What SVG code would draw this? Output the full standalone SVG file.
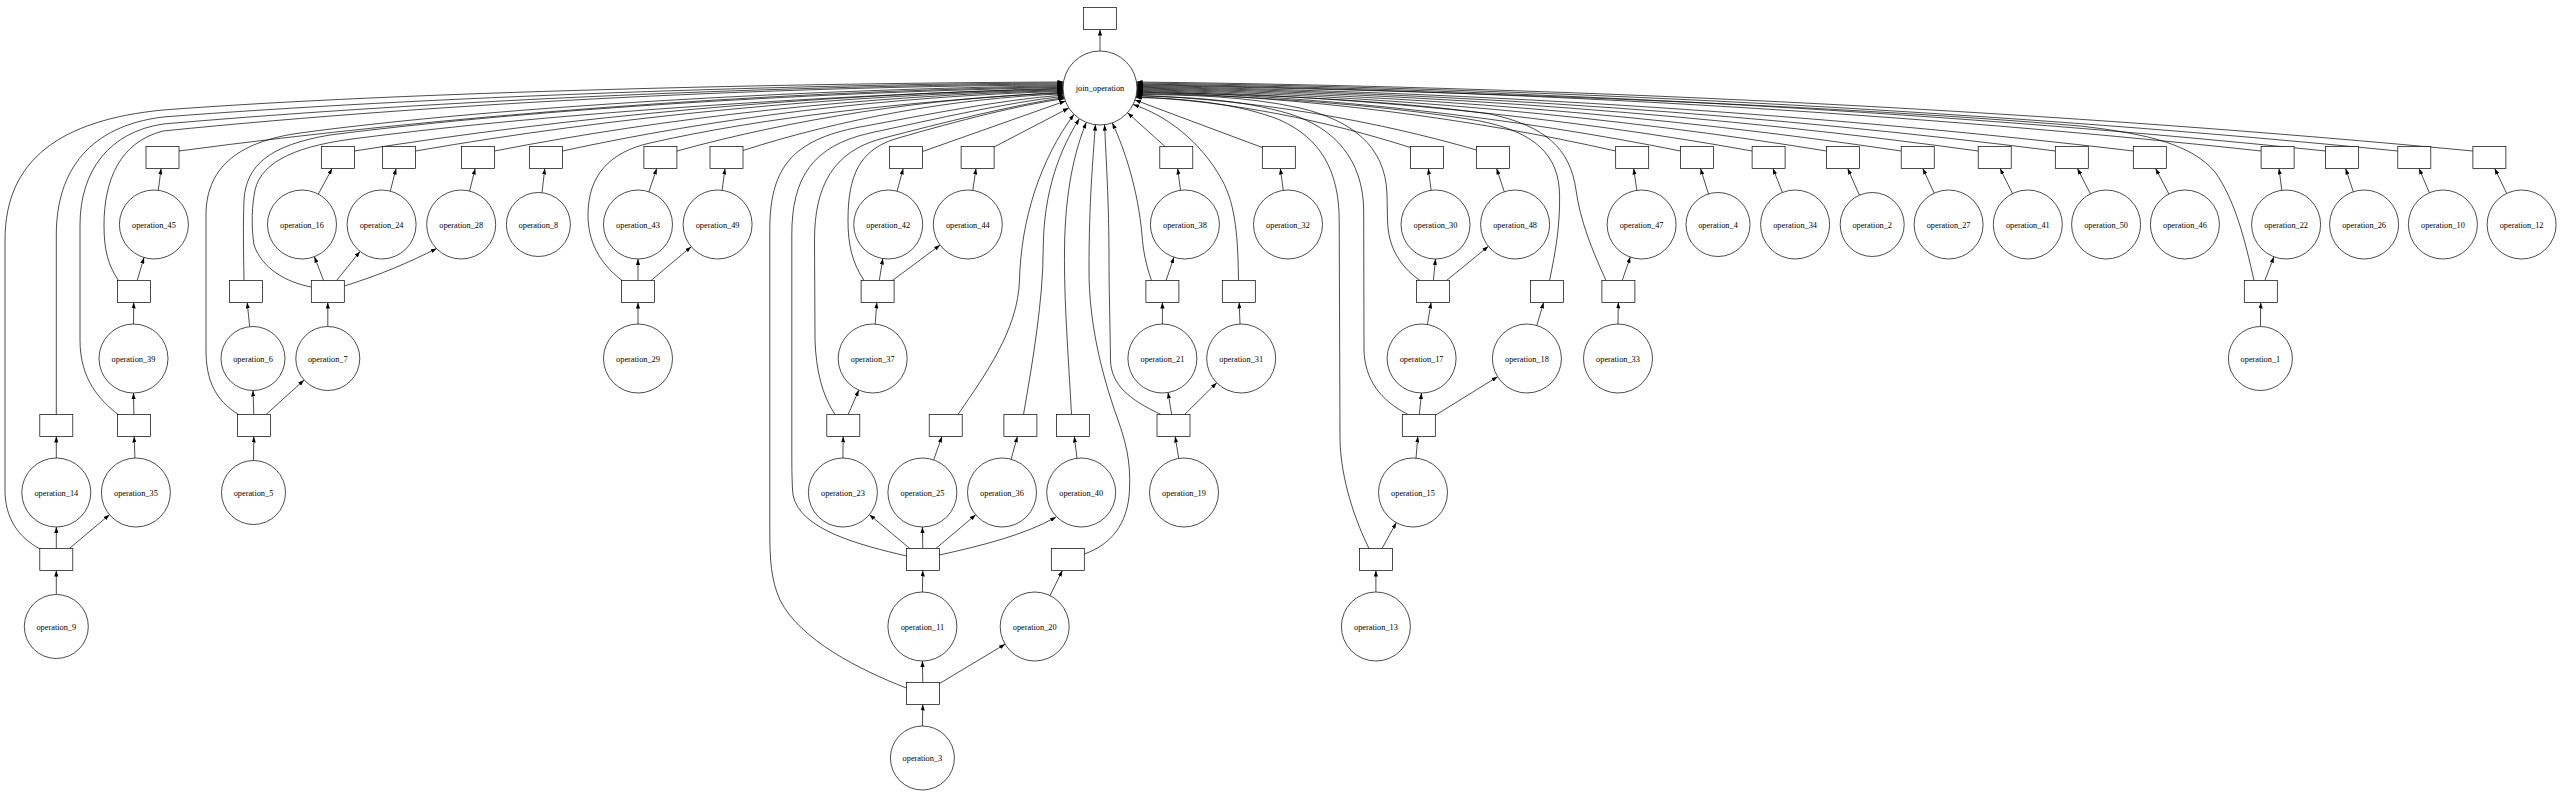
<svg xmlns="http://www.w3.org/2000/svg" width="2568" height="812" viewBox="0 0 2568 812">
<defs>
<marker id="ah" viewBox="0 0 10 7" refX="10" refY="3.5" markerWidth="6" markerHeight="4.2" markerUnits="userSpaceOnUse" orient="auto"><path d="M0,0 L10,3.5 L0,7 z" fill="#000"/></marker>
</defs>
<style>
.nd circle, .nd rect { fill:#fff; stroke:#000; stroke-width:0.7; }
.nd text { font-family:"Liberation Serif","Times New Roman",serif; font-size:8.3px; text-anchor:middle; fill:#000; }
#edges path { fill:none; stroke:#000; stroke-width:0.7; marker-end:url(#ah); }
</style>
<rect width="2568" height="812" fill="#fff"/>
<g id="edges">
<path d="M1100,51 L1100,29.5"/>
<path d="M158.3,190.3 L161.1,168.5"/>
<path d="M318.3,194.1 L332.1,168.5"/>
<path d="M390.3,191.1 L396.1,168.5"/>
<path d="M469.6,191 L475.2,168.5"/>
<path d="M542,192.7 L544.8,168.5"/>
<path d="M648.9,191.8 L656.7,168.5"/>
<path d="M722.1,190.3 L725,168.5"/>
<path d="M897.1,191.2 L903.2,168.5"/>
<path d="M972.8,190.4 L976,168.5"/>
<path d="M1180.5,190.3 L1177.7,168.5"/>
<path d="M1283.3,190.3 L1280.3,168.5"/>
<path d="M1431.1,190.3 L1428.3,168.5"/>
<path d="M1504.3,191.7 L1496.6,168.5"/>
<path d="M1636.8,190.3 L1633.7,168.5"/>
<path d="M1708.5,194 L1700.5,168.5"/>
<path d="M1782.4,192.4 L1772.9,168.5"/>
<path d="M1859.4,195.2 L1847.7,168.5"/>
<path d="M1934.2,193.2 L1922.8,168.5"/>
<path d="M2012.5,193.6 L2000.1,168.5"/>
<path d="M2090.4,193.8 L2077.4,168.5"/>
<path d="M2168.9,193.9 L2155.6,168.5"/>
<path d="M2281.8,190.3 L2279,168.5"/>
<path d="M2353.3,191.7 L2345.6,168.5"/>
<path d="M2429.4,192.8 L2419,168.5"/>
<path d="M2506.7,193.4 L2494.7,168.5"/>
<path d="M133.5,324 L133.7,302.5"/>
<path d="M249.7,326.7 L247.2,302.5"/>
<path d="M327.8,326.5 L327.8,302.5"/>
<path d="M638,324 L638,302.5"/>
<path d="M875.2,324.1 L876.8,302.5"/>
<path d="M1162.4,324 L1162.4,302.5"/>
<path d="M1240,324 L1239.2,302.5"/>
<path d="M1427.4,324.5 L1431.1,302.5"/>
<path d="M1536.8,325.4 L1543.6,302.5"/>
<path d="M1618,324 L1618.3,302.5"/>
<path d="M2260.4,326.5 L2260.7,302.5"/>
<path d="M56.3,458 L56.3,436.5"/>
<path d="M134.9,458 L134.2,436.5"/>
<path d="M253.5,460.5 L253.8,436.5"/>
<path d="M842.9,458 L843.2,436.5"/>
<path d="M933.7,459.9 L941.9,436.5"/>
<path d="M1011.1,459.2 L1017.4,436.5"/>
<path d="M1077,458.3 L1074.3,436.5"/>
<path d="M1178.7,458.4 L1175.2,436.5"/>
<path d="M1416,458.1 L1417.8,436.5"/>
<path d="M56.3,594.5 L56.3,570.5"/>
<path d="M922.4,592 L922.8,570.5"/>
<path d="M1050,595.6 L1062.4,570.5"/>
<path d="M1375.9,592 L1375.9,570.5"/>
<path d="M922.4,726 L922.8,704.5"/>
<path d="M56.3,548.5 L56.3,527"/>
<path d="M69.4,548.5 L109.5,514.7"/>
<path d="M133.9,414.5 L133.5,393"/>
<path d="M137.2,280.5 L144,257.6"/>
<path d="M253.8,414.5 L253,390.5"/>
<path d="M266,414.5 L304.1,380"/>
<path d="M323.6,280.5 L314.4,256.7"/>
<path d="M336.6,280.5 L360,251.4"/>
<path d="M344.3,286 C380,275 410,262 436.8,248.4"/>
<path d="M638,280.5 L638,259"/>
<path d="M651.1,280.5 L691.2,246.7"/>
<path d="M922.8,682.5 L922.4,661"/>
<path d="M939.4,683.6 L1005.1,644.2"/>
<path d="M909.8,548.5 L869.4,514.7"/>
<path d="M922.8,548.5 L922.4,527"/>
<path d="M935.9,548.5 L975.7,514.8"/>
<path d="M939.4,555 C980,546 1025,535 1056,517"/>
<path d="M1171.7,414.5 L1168,392.5"/>
<path d="M1184.6,414.5 L1216.7,382.8"/>
<path d="M1166.1,280.5 L1173.9,257.2"/>
<path d="M879.3,280.5 L882.8,258.6"/>
<path d="M892.4,280.5 L940.1,245.1"/>
<path d="M848.1,414.5 L858.8,390.1"/>
<path d="M1382,548.5 L1396.3,522.7"/>
<path d="M1419.3,414.5 L1421.5,393"/>
<path d="M1435.3,415.3 L1497.6,376.7"/>
<path d="M1433.4,280.5 L1435.5,259"/>
<path d="M1446.5,280.5 L1488.4,246.3"/>
<path d="M1622.2,280.5 L1630.3,257.1"/>
<path d="M2264.9,280.5 L2273.9,256.8"/>
<path d="M40,549 C18,537 5,518 5,490 L5,240 C5,160 60,120 163,110 C400,92 800,83 1063.5,82"/>
<path d="M56.3,414.5 L56.3,235 C56.3,170 90,126 163,117 C420,97 800,84 1063.3,83"/>
<path d="M118,414.5 C100,400 80,380 80,340 L80,225 C80,170 110,132 163,124 C440,100 800,85 1063.2,84"/>
<path d="M118.5,280.5 C108,265 104,250 104,225 C104,180 120,142 163,131 C450,102 800,86 1063.1,85"/>
<path d="M238.5,414.5 C215,400 206,380 206,350 L206,215 C206,170 235,142 300,133 C500,106 820,89 1063.1,85.8"/>
<path d="M179,151 C444.2,115.6 753.7,91.8 1063,86.6"/>
<path d="M244,280.5 C243.5,250 243,225 244,200 C246,165 270,145 330,135 C540,108 830,92 1063,87.4"/>
<path d="M311.3,287 C285,282 262,268 254,245 C251,225 252,205 255,190 C262,160 300,145 360,138 C560,112 840,95 1063,88.2"/>
<path d="M354.5,151 C567.1,116.9 815,94 1063,89"/>
<path d="M415.5,151 C609.8,117.3 836.4,94.7 1063,89.8"/>
<path d="M494.5,151 C665.1,117.8 864.1,95.4 1063.1,90.6"/>
<path d="M562.5,151 C712.7,118.2 888,96.2 1063.2,91.4"/>
<path d="M622,280.5 C598,262 588,240 588,215 C588,175 610,152 650,143 C760,118 900,102 1063.2,92.2"/>
<path d="M677,151 C792.9,119.1 928.1,97.6 1063.3,93"/>
<path d="M743,150.5 C839.2,119.5 951.3,98.4 1063.5,93.8"/>
<path d="M906.4,688 C860,670 800,640 780,600 C771,580 769.8,560 769.8,530 L769.8,230 C769.8,170 790,140 860,127 C930,114 1000,100 1063.7,95"/>
<path d="M906.4,556 C860,545 800,530 793,495 C792,485 791.8,470 791.8,450 L791.8,235 C791.8,178 812,146 870,133 C940,118 1005,103 1063.9,96.2"/>
<path d="M835,414.5 C822,395 816,370 815,340 L814.5,240 C814.5,185 834,152 880,139 C945,122 1010,106 1064.2,97.4"/>
<path d="M864,280.5 C852,262 848,245 848,220 C848,175 860,150 895,139 C960,120 1020,105 1064.6,98.6"/>
<path d="M922.6,151.5 L1065.4,101"/>
<path d="M994.1,147 L1068.8,108"/>
<path d="M958,414.5 C985,375 1018,330 1019.5,280 C1021,220 1040,160 1074,114.3"/>
<path d="M1023.5,414.5 C1033,360 1043,300 1043.2,250 C1043.5,190 1060,150 1079.3,118.7"/>
<path d="M1071.5,414.5 C1068,350 1064,300 1064.5,250 C1065,190 1075,150 1086.3,122.4"/>
<path d="M1084.3,554 C1110,545 1128,525 1129.5,490 C1131,460 1125,440 1118,420 C1100,370 1089,320 1089,270 C1089,200 1093,160 1095.4,124.7"/>
<path d="M1161,414.5 C1130,400 1111,385 1110.5,360 C1110,320 1109,290 1109,260 C1109,200 1106,160 1104.6,124.7"/>
<path d="M1151.5,280.5 C1146,265 1143,250 1142,235 C1138,190 1125,150 1112.3,122.9"/>
<path d="M1165,146.5 L1127.5,112.7"/>
<path d="M1238.5,280.5 C1238,240 1236,205 1222,180 C1200,140 1165,115 1133.1,104.5"/>
<path d="M1262.3,147.5 L1135,100"/>
<path d="M1369,548.5 C1355,520 1341,480 1340,440 L1339.2,220 C1339,170 1320,138 1280,120 C1240,104 1185,98 1135.6,97.6"/>
<path d="M1408,414.5 C1380,400 1365,380 1364,350 L1363.7,210 C1363,160 1335,128 1290,114 C1240,99 1185,97 1136.1,96"/>
<path d="M1420,280.5 C1398,265 1388,245 1387.5,220 L1387,195 C1386,145 1350,120 1300,108 C1245,96 1190,95 1136.4,94.4"/>
<path d="M1410.4,147.5 C1328,121.2 1232,101.1 1135.9,96.8"/>
<path d="M1476.5,150 C1374.4,120.3 1255.4,99.7 1136.3,95.2"/>
<path d="M1549.5,280.5 C1556,250 1560,225 1559.6,195 C1559,155 1535,132 1480,121 C1380,104 1240,95 1136.6,93.6"/>
<path d="M1606,280.5 C1592,250 1580,220 1576,190 C1570,148 1545,126 1490,114 C1390,100 1240,93 1136.7,92.8"/>
<path d="M1615.7,151 C1472,118.5 1304.4,96.7 1136.8,92"/>
<path d="M1680.6,151 C1517.5,118.1 1327.2,96 1136.9,91.2"/>
<path d="M1752.1,151 C1567.5,117.7 1352.2,95.2 1136.9,90.4"/>
<path d="M1826.4,151 C1619.6,117.2 1378.3,94.5 1137,89.6"/>
<path d="M1901.2,151 C1671.9,116.8 1404.5,93.8 1137,88.8"/>
<path d="M1978.2,151 C1725.8,116.3 1431.4,93 1137,88"/>
<path d="M2055.3,151 C1779.8,115.9 1458.4,92.3 1137,87.2"/>
<path d="M2133.3,151 C1834.4,115.5 1485.7,91.6 1137,86.4"/>
<path d="M2254,280.5 C2245,240 2235,200 2215,172 C2192,145 2150,134 2080,126 C1820,104 1400,89 1136.9,85.6"/>
<path d="M2261.1,151 C1923.8,114.6 1530.4,90.1 1136.9,84.8"/>
<path d="M2325.5,151 C1968.9,114.1 1552.8,89.4 1136.8,84"/>
<path d="M2397.8,151 C2019.5,113.6 1578.1,88.4 1136.7,83"/>
<path d="M2472.9,151 C2072,113 1604.2,87.5 1136.5,82"/>
</g>
<g id="nodes">
<g id="box_join_operation" class="nd"><rect x="1083.5" y="7.5" width="33" height="22"/></g>
<g id="join_operation" class="nd"><circle cx="1100" cy="88" r="37"/><text x="1100" y="91">join_operation</text></g>
<g id="box_operation_45" class="nd"><rect x="146" y="146.5" width="33" height="22"/></g>
<g id="box_operation_16" class="nd"><rect x="321.5" y="146.5" width="33" height="22"/></g>
<g id="box_operation_24" class="nd"><rect x="382.5" y="146.5" width="33" height="22"/></g>
<g id="box_operation_28" class="nd"><rect x="461.5" y="146.5" width="33" height="22"/></g>
<g id="box_operation_8" class="nd"><rect x="529.5" y="146.5" width="33" height="22"/></g>
<g id="box_operation_43" class="nd"><rect x="643.9" y="146.5" width="33" height="22"/></g>
<g id="box_operation_49" class="nd"><rect x="710" y="146.5" width="33" height="22"/></g>
<g id="box_operation_42" class="nd"><rect x="889.6" y="146.5" width="33" height="22"/></g>
<g id="box_operation_44" class="nd"><rect x="961.1" y="146.5" width="33" height="22"/></g>
<g id="box_operation_38" class="nd"><rect x="1159.8" y="146.5" width="33" height="22"/></g>
<g id="box_operation_32" class="nd"><rect x="1262.3" y="146.5" width="33" height="22"/></g>
<g id="box_operation_30" class="nd"><rect x="1410.4" y="146.5" width="33" height="22"/></g>
<g id="box_operation_48" class="nd"><rect x="1476.5" y="146.5" width="33" height="22"/></g>
<g id="box_operation_47" class="nd"><rect x="1615.7" y="146.5" width="33" height="22"/></g>
<g id="box_operation_4" class="nd"><rect x="1680.6" y="146.5" width="33" height="22"/></g>
<g id="box_operation_34" class="nd"><rect x="1752.1" y="146.5" width="33" height="22"/></g>
<g id="box_operation_2" class="nd"><rect x="1826.4" y="146.5" width="33" height="22"/></g>
<g id="box_operation_27" class="nd"><rect x="1901.2" y="146.5" width="33" height="22"/></g>
<g id="box_operation_41" class="nd"><rect x="1978.2" y="146.5" width="33" height="22"/></g>
<g id="box_operation_50" class="nd"><rect x="2055.3" y="146.5" width="33" height="22"/></g>
<g id="box_operation_46" class="nd"><rect x="2133.3" y="146.5" width="33" height="22"/></g>
<g id="box_operation_22" class="nd"><rect x="2261.1" y="146.5" width="33" height="22"/></g>
<g id="box_operation_26" class="nd"><rect x="2325.5" y="146.5" width="33" height="22"/></g>
<g id="box_operation_10" class="nd"><rect x="2397.8" y="146.5" width="33" height="22"/></g>
<g id="box_operation_12" class="nd"><rect x="2472.9" y="146.5" width="33" height="22"/></g>
<g id="box_operation_39" class="nd"><rect x="117.4" y="280.5" width="33" height="22"/></g>
<g id="box_operation_6" class="nd"><rect x="229.5" y="280.5" width="33" height="22"/></g>
<g id="box_operation_7" class="nd"><rect x="311.3" y="280.5" width="33" height="22"/></g>
<g id="box_operation_29" class="nd"><rect x="621.5" y="280.5" width="33" height="22"/></g>
<g id="box_operation_37" class="nd"><rect x="861.1" y="280.5" width="33" height="22"/></g>
<g id="box_operation_21" class="nd"><rect x="1145.9" y="280.5" width="33" height="22"/></g>
<g id="box_operation_31" class="nd"><rect x="1222.3" y="280.5" width="33" height="22"/></g>
<g id="box_operation_17" class="nd"><rect x="1416.5" y="280.5" width="33" height="22"/></g>
<g id="box_operation_18" class="nd"><rect x="1530.4" y="280.5" width="33" height="22"/></g>
<g id="box_operation_33" class="nd"><rect x="1601.9" y="280.5" width="33" height="22"/></g>
<g id="box_operation_1" class="nd"><rect x="2244.3" y="280.5" width="33" height="22"/></g>
<g id="box_operation_14" class="nd"><rect x="39.8" y="414.5" width="33" height="22"/></g>
<g id="box_operation_35" class="nd"><rect x="117.4" y="414.5" width="33" height="22"/></g>
<g id="box_operation_5" class="nd"><rect x="237.4" y="414.5" width="33" height="22"/></g>
<g id="box_operation_23" class="nd"><rect x="826.8" y="414.5" width="33" height="22"/></g>
<g id="box_operation_25" class="nd"><rect x="929.2" y="414.5" width="33" height="22"/></g>
<g id="box_operation_36" class="nd"><rect x="1003.9" y="414.5" width="33" height="22"/></g>
<g id="box_operation_40" class="nd"><rect x="1056.5" y="414.5" width="33" height="22"/></g>
<g id="box_operation_19" class="nd"><rect x="1157" y="414.5" width="33" height="22"/></g>
<g id="box_operation_15" class="nd"><rect x="1402.3" y="414.5" width="33" height="22"/></g>
<g id="box_operation_9" class="nd"><rect x="39.8" y="548.5" width="33" height="22"/></g>
<g id="box_operation_11" class="nd"><rect x="906.4" y="548.5" width="33" height="22"/></g>
<g id="box_operation_20" class="nd"><rect x="1051.3" y="548.5" width="33" height="22"/></g>
<g id="box_operation_13" class="nd"><rect x="1359.4" y="548.5" width="33" height="22"/></g>
<g id="box_operation_3" class="nd"><rect x="906.4" y="682.5" width="33" height="22"/></g>
<g id="operation_45" class="nd"><circle cx="153.9" cy="224.5" r="34.5"/><text x="153.9" y="227.5">operation_45</text></g>
<g id="operation_16" class="nd"><circle cx="302" cy="224.5" r="34.5"/><text x="302" y="227.5">operation_16</text></g>
<g id="operation_24" class="nd"><circle cx="381.6" cy="224.5" r="34.5"/><text x="381.6" y="227.5">operation_24</text></g>
<g id="operation_28" class="nd"><circle cx="461.2" cy="224.5" r="34.5"/><text x="461.2" y="227.5">operation_28</text></g>
<g id="operation_8" class="nd"><circle cx="538.4" cy="224.5" r="32"/><text x="538.4" y="227.5">operation_8</text></g>
<g id="operation_43" class="nd"><circle cx="638" cy="224.5" r="34.5"/><text x="638" y="227.5">operation_43</text></g>
<g id="operation_49" class="nd"><circle cx="717.6" cy="224.5" r="34.5"/><text x="717.6" y="227.5">operation_49</text></g>
<g id="operation_42" class="nd"><circle cx="888.2" cy="224.5" r="34.5"/><text x="888.2" y="227.5">operation_42</text></g>
<g id="operation_44" class="nd"><circle cx="967.8" cy="224.5" r="34.5"/><text x="967.8" y="227.5">operation_44</text></g>
<g id="operation_38" class="nd"><circle cx="1184.9" cy="224.5" r="34.5"/><text x="1184.9" y="227.5">operation_38</text></g>
<g id="operation_32" class="nd"><circle cx="1288" cy="224.5" r="34.5"/><text x="1288" y="227.5">operation_32</text></g>
<g id="operation_30" class="nd"><circle cx="1435.5" cy="224.5" r="34.5"/><text x="1435.5" y="227.5">operation_30</text></g>
<g id="operation_48" class="nd"><circle cx="1515.1" cy="224.5" r="34.5"/><text x="1515.1" y="227.5">operation_48</text></g>
<g id="operation_47" class="nd"><circle cx="1641.6" cy="224.5" r="34.5"/><text x="1641.6" y="227.5">operation_47</text></g>
<g id="operation_4" class="nd"><circle cx="1718" cy="224.5" r="32"/><text x="1718" y="227.5">operation_4</text></g>
<g id="operation_34" class="nd"><circle cx="1795.1" cy="224.5" r="34.5"/><text x="1795.1" y="227.5">operation_34</text></g>
<g id="operation_2" class="nd"><circle cx="1872.2" cy="224.5" r="32"/><text x="1872.2" y="227.5">operation_2</text></g>
<g id="operation_27" class="nd"><circle cx="1948.6" cy="224.5" r="34.5"/><text x="1948.6" y="227.5">operation_27</text></g>
<g id="operation_41" class="nd"><circle cx="2027.8" cy="224.5" r="34.5"/><text x="2027.8" y="227.5">operation_41</text></g>
<g id="operation_50" class="nd"><circle cx="2106.1" cy="224.5" r="34.5"/><text x="2106.1" y="227.5">operation_50</text></g>
<g id="operation_46" class="nd"><circle cx="2184.9" cy="224.5" r="34.5"/><text x="2184.9" y="227.5">operation_46</text></g>
<g id="operation_22" class="nd"><circle cx="2286.1" cy="224.5" r="34.5"/><text x="2286.1" y="227.5">operation_22</text></g>
<g id="operation_26" class="nd"><circle cx="2364.1" cy="224.5" r="34.5"/><text x="2364.1" y="227.5">operation_26</text></g>
<g id="operation_10" class="nd"><circle cx="2442.9" cy="224.5" r="34.5"/><text x="2442.9" y="227.5">operation_10</text></g>
<g id="operation_12" class="nd"><circle cx="2521.6" cy="224.5" r="34.5"/><text x="2521.6" y="227.5">operation_12</text></g>
<g id="operation_39" class="nd"><circle cx="133.5" cy="358.5" r="34.5"/><text x="133.5" y="361.5">operation_39</text></g>
<g id="operation_6" class="nd"><circle cx="253" cy="358.5" r="32"/><text x="253" y="361.5">operation_6</text></g>
<g id="operation_7" class="nd"><circle cx="327.8" cy="358.5" r="32"/><text x="327.8" y="361.5">operation_7</text></g>
<g id="operation_29" class="nd"><circle cx="638" cy="358.5" r="34.5"/><text x="638" y="361.5">operation_29</text></g>
<g id="operation_37" class="nd"><circle cx="872.7" cy="358.5" r="34.5"/><text x="872.7" y="361.5">operation_37</text></g>
<g id="operation_21" class="nd"><circle cx="1162.4" cy="358.5" r="34.5"/><text x="1162.4" y="361.5">operation_21</text></g>
<g id="operation_31" class="nd"><circle cx="1241.2" cy="358.5" r="34.5"/><text x="1241.2" y="361.5">operation_31</text></g>
<g id="operation_17" class="nd"><circle cx="1421.6" cy="358.5" r="34.5"/><text x="1421.6" y="361.5">operation_17</text></g>
<g id="operation_18" class="nd"><circle cx="1526.9" cy="358.5" r="34.5"/><text x="1526.9" y="361.5">operation_18</text></g>
<g id="operation_33" class="nd"><circle cx="1618" cy="358.5" r="34.5"/><text x="1618" y="361.5">operation_33</text></g>
<g id="operation_1" class="nd"><circle cx="2260.4" cy="358.5" r="32"/><text x="2260.4" y="361.5">operation_1</text></g>
<g id="operation_14" class="nd"><circle cx="56.3" cy="492.5" r="34.5"/><text x="56.3" y="495.5">operation_14</text></g>
<g id="operation_35" class="nd"><circle cx="135.9" cy="492.5" r="34.5"/><text x="135.9" y="495.5">operation_35</text></g>
<g id="operation_5" class="nd"><circle cx="253.5" cy="492.5" r="32"/><text x="253.5" y="495.5">operation_5</text></g>
<g id="operation_23" class="nd"><circle cx="842.9" cy="492.5" r="34.5"/><text x="842.9" y="495.5">operation_23</text></g>
<g id="operation_25" class="nd"><circle cx="922.4" cy="492.5" r="34.5"/><text x="922.4" y="495.5">operation_25</text></g>
<g id="operation_36" class="nd"><circle cx="1002" cy="492.5" r="34.5"/><text x="1002" y="495.5">operation_36</text></g>
<g id="operation_40" class="nd"><circle cx="1081.2" cy="492.5" r="34.5"/><text x="1081.2" y="495.5">operation_40</text></g>
<g id="operation_19" class="nd"><circle cx="1184" cy="492.5" r="34.5"/><text x="1184" y="495.5">operation_19</text></g>
<g id="operation_15" class="nd"><circle cx="1413" cy="492.5" r="34.5"/><text x="1413" y="495.5">operation_15</text></g>
<g id="operation_9" class="nd"><circle cx="56.3" cy="626.5" r="32"/><text x="56.3" y="629.5">operation_9</text></g>
<g id="operation_11" class="nd"><circle cx="922.4" cy="626.5" r="34.5"/><text x="922.4" y="629.5">operation_11</text></g>
<g id="operation_20" class="nd"><circle cx="1034.7" cy="626.5" r="34.5"/><text x="1034.7" y="629.5">operation_20</text></g>
<g id="operation_13" class="nd"><circle cx="1375.9" cy="626.5" r="34.5"/><text x="1375.9" y="629.5">operation_13</text></g>
<g id="operation_3" class="nd"><circle cx="922.4" cy="758" r="32"/><text x="922.4" y="761">operation_3</text></g>
</g>
</svg>
